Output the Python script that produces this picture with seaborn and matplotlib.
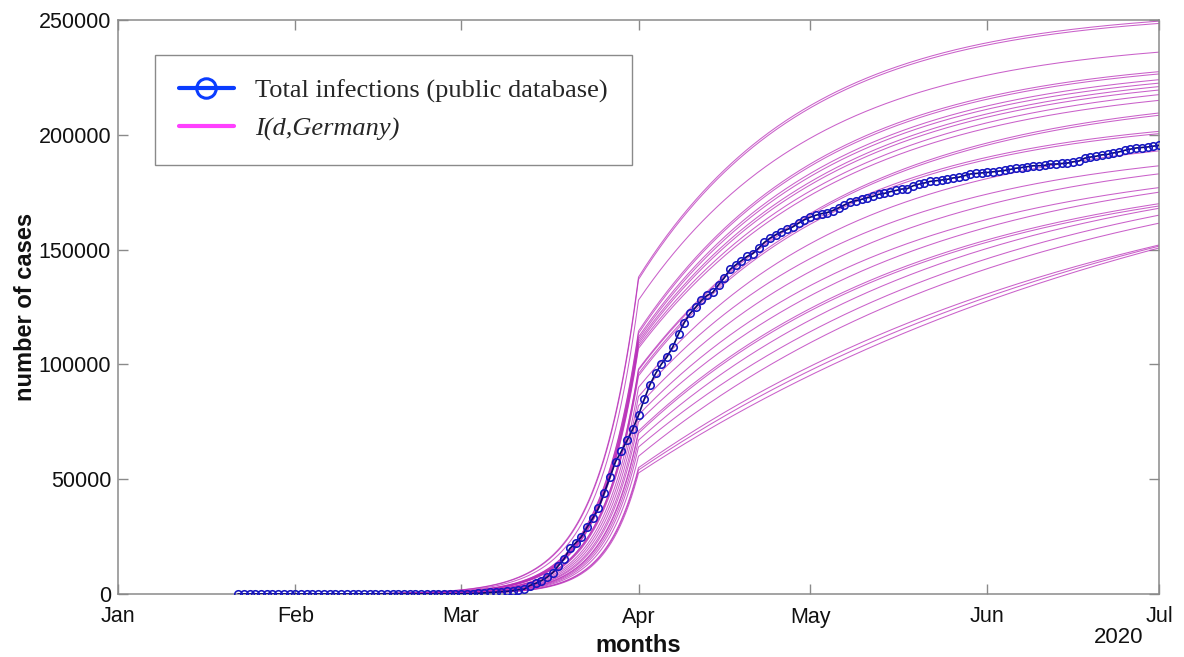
import numpy as np
import pandas as pd
import matplotlib
matplotlib.use("Agg")
import matplotlib.pyplot as plt
import matplotlib.dates as mdates
from matplotlib.lines import Line2D
from matplotlib.ticker import FuncFormatter
import seaborn as sns

# ---------------------------------------------------------------------------
# Reported cumulative infections, Germany, one value per day from 22 Jan 2020
# ---------------------------------------------------------------------------
reported_start = "2020-01-22"
reported_jan = [0, 0, 0, 0, 0, 1, 4, 4, 4, 5]
reported_feb = [8, 10, 12, 12, 12, 12, 13, 13, 14, 14,
                16, 16, 16, 16, 16, 16, 16, 16, 16, 16,
                16, 16, 16, 16, 17, 27, 46, 48, 79]
reported_mar = [130, 159, 196, 262, 482, 670, 799, 1040, 1176, 1457,
                1908, 2078, 3675, 4585, 5795, 7272, 9257, 12327, 15320, 19848,
                22213, 24873, 29056, 32986, 37323, 43938, 50871, 57695, 62095, 66885,
                71808]
reported_apr = [77872, 84794, 91159, 96092, 100123, 103374, 107663, 113296, 118181, 122171,
                124908, 127854, 130072, 131359, 134753, 137698, 141397, 143342, 145184, 147065,
                148291, 150648, 153129, 154999, 156513, 157770, 158758, 159912, 161539, 163009]
reported_may = [164077, 164967, 165664, 166152, 167007, 168162, 169430, 170588, 171324, 171879,
                172576, 173171, 174098, 174478, 175233, 175752, 176369, 176551, 177778, 178473,
                179021, 179710, 179986, 180328, 180600, 181200, 181524, 182196, 182922, 183189,
                183410]
reported_jun = [183594, 183879, 184121, 184472, 184924, 185450, 185750, 186109, 186506, 186522,
                186691, 187226, 187267, 187518, 187682, 188252, 188604, 189817, 190299, 190670,
                191272, 191449, 192079, 192556, 193243, 193761, 194259, 194458, 194693, 195042]
reported_jul = [195418]

# ---------------------------------------------------------------------------
# Model runs I(d, Germany): level on 1 Apr (change of regime), level on 1 Jul,
# post-April settling rate (1/day) and pre-April growth rate (1/day)
# ---------------------------------------------------------------------------
kink_date = "2020-04-01"
end_date = "2020-07-01"
level_at_kink = [138000, 137000, 128000, 114500, 113500, 112000, 111000, 110000,
                 109000, 108000, 107000, 98000, 97500, 96000, 95000, 90000,
                 86000, 82000, 78000, 75000, 71000, 70000, 67000, 64000,
                 60000, 55000, 54000, 52700]
level_at_end = [249500, 248500, 236000, 227500, 226500, 224000, 222500, 221000,
                219500, 217500, 215000, 209500, 208500, 201500, 200500, 193000,
                186500, 183000, 177000, 175000, 170000, 169000, 168000, 165000,
                161500, 152000, 151500, 150700]
settle_rate = [0.034, 0.034, 0.032, 0.031, 0.031, 0.030, 0.030, 0.029,
               0.029, 0.028, 0.028, 0.027, 0.027, 0.029, 0.029, 0.027,
               0.026, 0.024, 0.023, 0.021, 0.020, 0.020, 0.018, 0.016,
               0.015, 0.012, 0.011, 0.010]
growth_rate = [0.140, 0.141, 0.144, 0.148, 0.148, 0.149, 0.150, 0.150,
               0.151, 0.152, 0.152, 0.155, 0.155, 0.156, 0.157, 0.159,
               0.161, 0.163, 0.165, 0.166, 0.168, 0.169, 0.170, 0.172,
               0.174, 0.177, 0.178, 0.180]

# ---------------------------------------------------------------------------
reported = (reported_jan + reported_feb + reported_mar + reported_apr
            + reported_may + reported_jun + reported_jul)
report_dates = pd.date_range(reported_start, periods=len(reported), freq="D")
df_reported = pd.DataFrame({"date": report_dates, "cases": reported})

kink = pd.Timestamp(kink_date)
end = pd.Timestamp(end_date)
grid = pd.date_range(reported_start, end_date, freq="6h")
t_rel = np.asarray((grid - kink) / pd.Timedelta(days=1), dtype=float)
span = (end - kink).days

frames = []
for run, (v0, v1, k, r) in enumerate(zip(level_at_kink, level_at_end,
                                          settle_rate, growth_rate)):
    gain = (v1 - v0) / (1.0 - np.exp(-k * span))
    before = v0 * np.exp(r * np.minimum(t_rel, 0.0))
    after = v0 + gain * (1.0 - np.exp(-k * np.maximum(t_rel, 0.0)))
    vals = np.where(t_rel < 0, before, after)
    frames.append(pd.DataFrame({"date": grid, "cases": vals, "run": run}))
df_model = pd.concat(frames, ignore_index=True)

# ---------------------------------------------------------------------------
sns.set_theme(style="white")
plt.rcParams["font.family"] = ["Liberation Sans", "DejaVu Sans"]

fig = plt.figure(figsize=(11.84, 6.57), dpi=100)
ax = fig.add_axes([118 / 1184, 1 - 594 / 657, 1041 / 1184, 574 / 657])

sns.lineplot(data=df_model, x="date", y="cases", units="run", estimator=None,
             color="#b82cb8", linewidth=0.75, alpha=0.75, legend=False, ax=ax)
sns.lineplot(data=df_reported, x="date", y="cases", color="#0a0a6e",
             linewidth=1.2, marker="o", markersize=5.4,
             markerfacecolor="none", markeredgecolor="#1616c0",
             markeredgewidth=1.15, legend=False, ax=ax, zorder=5)

ax.set_xlim(pd.Timestamp("2020-01-01"), end)
ax.set_ylim(0, 250000)
ax.set_yticks(np.arange(0, 250001, 50000))
ax.yaxis.set_major_formatter(FuncFormatter(lambda v, p: f"{int(v)}"))
ax.xaxis.set_major_locator(mdates.MonthLocator())
ax.xaxis.set_major_formatter(mdates.DateFormatter("%b"))

axis_grey = "#8a8a8a"
for sp in ax.spines.values():
    sp.set_visible(True)
    sp.set_color(axis_grey)
    sp.set_linewidth(1.1)
ax.tick_params(axis="both", which="major", direction="in", length=7, width=1,
               color=axis_grey, labelcolor="#111111", labelsize=15.5,
               top=True, right=True, bottom=True, left=True)
ax.tick_params(axis="x", pad=9)
ax.tick_params(axis="y", pad=5)

ax.set_xlabel("months", fontsize=17, fontweight="bold", color="#111111")
ax.set_ylabel("number of cases", fontsize=17, fontweight="bold", color="#111111")
ax.xaxis.set_label_coords(0.5, -0.07)
ax.yaxis.set_label_coords(-0.078, 0.5)
ax.text(0.985, -0.075, "2020", transform=ax.transAxes, ha="right", va="center",
        fontsize=16, color="#111111")

handles = [
    Line2D([], [], color="#0a3cff", linewidth=3, marker="o", markersize=14,
           markerfacecolor="none", markeredgecolor="#0a3cff", markeredgewidth=2.2),
    Line2D([], [], color="#ff40ff", linewidth=3),
]
leg = ax.legend(handles, ["Total infections (public database)", "I(d,Germany)"],
                loc="upper left", bbox_to_anchor=(37 / 1041, 1 - 35 / 574),
                borderaxespad=0, frameon=True, fancybox=False, framealpha=1,
                edgecolor=axis_grey, prop={"family": "Liberation Serif", "size": 19},
                handlelength=2.1, handletextpad=0.8, labelspacing=0.55,
                borderpad=0.9)
leg.get_frame().set_linewidth(1.0)
leg.get_texts()[1].set_fontstyle("italic")

fig.savefig("out.png", dpi=100)
